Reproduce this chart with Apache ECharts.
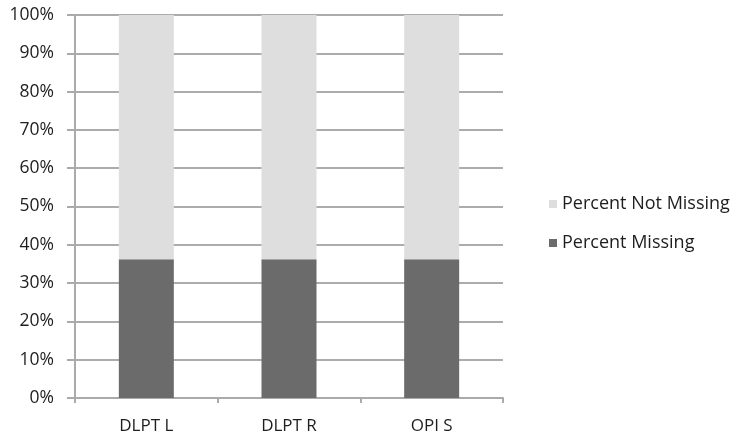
<!DOCTYPE html>
<html>
<head>
<meta charset="utf-8">
<script src="https://cdn.jsdelivr.net/npm/echarts@6/dist/echarts.min.js"></script>
<style>
  html, body { margin: 0; padding: 0; background: #fff; }
  #chart { width: 737px; height: 439px; }
</style>
</head>
<body>
<div id="chart"></div>
<script>
// Share of records missing vs. present per measure
const categories = ['DLPT L', 'DLPT R', 'OPI S'];
const percentMissing = [36.2, 36.2, 36.2];
const percentNotMissing = [63.8, 63.8, 63.8];

const FONT = '"Open Sans", "Liberation Sans", sans-serif';
const chart = echarts.init(document.getElementById('chart'));

chart.setOption({
  animation: false,
  backgroundColor: '#ffffff',
  grid: { left: 75, right: 234, top: 15, bottom: 41 },
  legend: {
    orient: 'vertical',
    left: 544,
    top: 190,
    itemWidth: 8,
    itemHeight: 8,
    itemGap: 21,
    icon: 'rect',
    data: ['Percent Not Missing', 'Percent Missing'],
    textStyle: { fontFamily: FONT, fontSize: 18, color: '#1e1e1e', padding: [0, 0, 0, 0] }
  },
  xAxis: {
    type: 'category',
    data: categories,
    axisLine: { lineStyle: { color: '#aaaaaa', width: 2 } },
    axisTick: { show: true, length: 5, lineStyle: { color: '#aaaaaa', width: 2 } },
    axisLabel: { fontFamily: FONT, fontSize: 17, color: '#1e1e1e', margin: 20 }
  },
  yAxis: {
    type: 'value',
    min: 0,
    max: 100,
    interval: 10,
    axisLine: { show: true, lineStyle: { color: '#aaaaaa', width: 2 } },
    axisTick: { show: true, length: 8, lineStyle: { color: '#aaaaaa', width: 2 } },
    axisLabel: { formatter: '{value}%', fontFamily: FONT, fontSize: 17.5, color: '#1e1e1e', margin: 21 },
    splitLine: { lineStyle: { color: '#acacac', width: 2 } }
  },
  series: [
    {
      name: 'Percent Missing',
      type: 'bar',
      stack: 'total',
      barWidth: 55,
      data: percentMissing,
      itemStyle: { color: '#6b6b6b' }
    },
    {
      name: 'Percent Not Missing',
      type: 'bar',
      stack: 'total',
      barWidth: 55,
      data: percentNotMissing,
      itemStyle: { color: '#dedede' }
    }
  ]
});
</script>
</body>
</html>
